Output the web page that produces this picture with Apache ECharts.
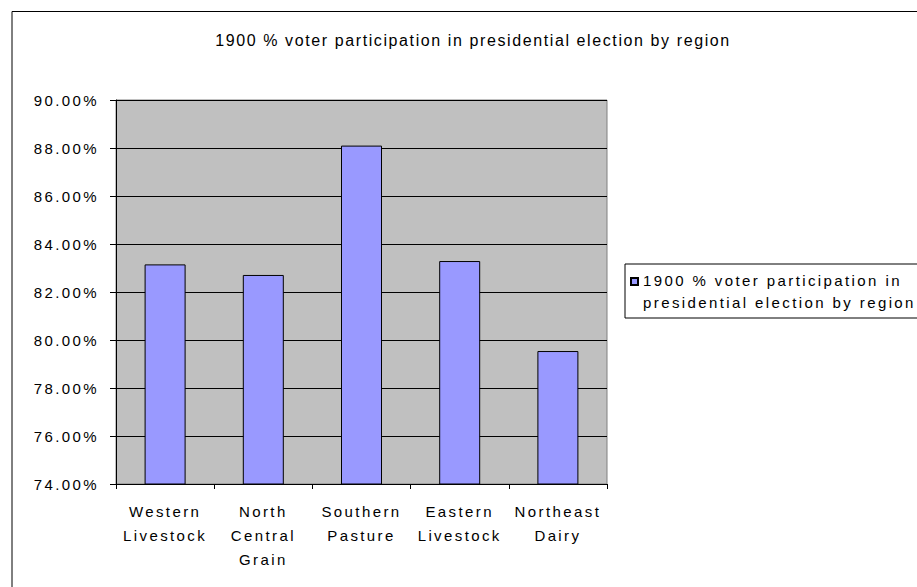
<!DOCTYPE html>
<html>
<head>
<meta charset="utf-8">
<script src="https://cdn.jsdelivr.net/npm/echarts@6/dist/echarts.min.js"></script>
<style>
html,body{margin:0;padding:0;background:#fff}
#c{width:917px;height:587px}
#c svg text{letter-spacing:2.4px}
#c svg text[style*="16px"]{letter-spacing:1.6px}
</style>
</head>
<body>
<div id="c"></div>
<script>
const categories = ['Western\nLivestock', 'North\nCentral\nGrain', 'Southern\nPasture', 'Eastern\nLivestock', 'Northeast\nDairy'];
const participation = [83.15, 82.71, 88.10, 83.29, 79.54];
const seriesName = '1900 % voter participation in presidential election by region';
const titleText = '1900 % voter participation in presidential election by region';
const yMin = 74, yMax = 90, yStep = 2;

const chart = echarts.init(document.getElementById('c'), null, {renderer: 'svg'});
const font = 'Liberation Sans, Arial, sans-serif';
chart.setOption({
  animation: false,
  backgroundColor: '#fff',
  title: {
    text: titleText,
    left: 468,
    textAlign: 'center',
    top: 27,
    textStyle: {fontFamily: font, fontSize: 16, fontWeight: 'normal', color: '#000'}
  },
  graphic: [{
    type: 'rect', silent: true,
    shape: {x: 12, y: 11.5, width: 1000, height: 1000},
    style: {fill: 'none', stroke: '#000', lineWidth: 1}
  }],
  legend: {
    left: 625, top: 264,
    orient: 'vertical',
    padding: [5, 120, 5, 5],
    borderColor: '#000', borderWidth: 1,
    itemWidth: 7, itemHeight: 30,
    icon: 'path://M0,0L8,0L8,8L0,8ZM0,30L0.001,30',
    formatter: function () { return '1900 % voter participation in\npresidential election by region'; },
    textStyle: {fontFamily: font, fontSize: 15, color: '#000', lineHeight: 22}
  },
  grid: {
    left: 116, top: 100, width: 491, height: 384,
    show: true, backgroundColor: '#C0C0C0', borderColor: '#808080', borderWidth: 1
  },
  xAxis: {
    type: 'category',
    data: categories,
    axisLine: {lineStyle: {color: '#000', width: 1}},
    axisTick: {show: true, length: 5, lineStyle: {color: '#000'}},
    axisLabel: {fontFamily: font, fontSize: 15, color: '#000', margin: 15, lineHeight: 24, interval: 0}
  },
  yAxis: {
    type: 'value',
    min: yMin, max: yMax, interval: yStep,
    axisLine: {show: true, lineStyle: {color: '#000', width: 1}},
    axisTick: {show: true, length: 6, lineStyle: {color: '#000'}},
    axisLabel: {fontFamily: font, fontSize: 15, color: '#000', margin: 17,
      formatter: function (v) { return v.toFixed(2) + '%'; }},
    splitLine: {show: true, lineStyle: {color: '#000', width: 1}}
  },
  series: [{
    name: seriesName,
    type: 'bar',
    data: participation,
    barWidth: 41,
    itemStyle: {color: '#9999FF', borderColor: '#000', borderWidth: 1}
  }]
});
</script>
</body>
</html>
